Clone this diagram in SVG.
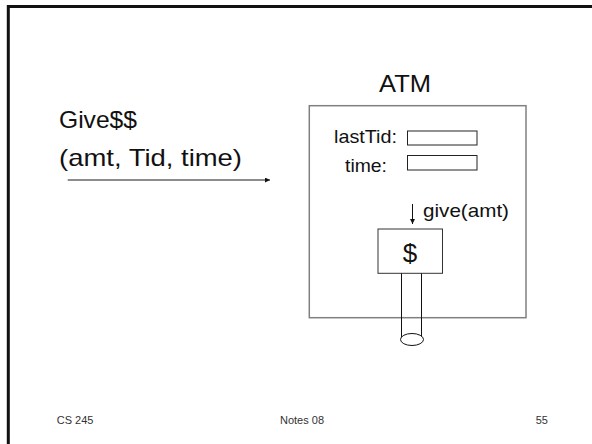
<svg xmlns="http://www.w3.org/2000/svg" width="592" height="444" viewBox="0 0 592 444">
  <style>
    .t { font-family: "Liberation Sans", Arial, sans-serif; fill: #111; }
    .big { font-size: 24px; }
    .mid { font-size: 19px; }
    .foot { font-family: "Liberation Sans", Arial, sans-serif; font-size: 11px; fill: #333; }
    .box { fill: #fff; stroke: #808080; stroke-width: 1.5; }
    .field { fill: #fff; stroke: #222; stroke-width: 1; }
    .blk { fill: none; stroke: #111; stroke-width: 1; }
  </style>
  <defs>
    <marker id="ah" viewBox="0 0 10 10" refX="10" refY="5" markerWidth="5" markerHeight="5" markerUnits="userSpaceOnUse" orient="auto">
      <path d="M0,0 L10,5 L0,10 z" fill="#111"/>
    </marker>
  </defs>
  <rect width="592" height="444" fill="#fff"/>
  <rect x="8.3" y="6.5" width="600" height="460" fill="none" stroke="#111" stroke-width="3"/>

  <g id="message">
    <text class="t big" x="59" y="127.5" textLength="78" lengthAdjust="spacingAndGlyphs">Give$$</text>
    <text class="t big" x="59" y="166" textLength="183" lengthAdjust="spacingAndGlyphs">(amt, Tid, time)</text>
  </g>

  <g id="atm">
    <text class="t big" x="405" y="92.3" text-anchor="middle" textLength="52" lengthAdjust="spacingAndGlyphs">ATM</text>
    <rect class="box" x="309.3" y="105.7" width="216.7" height="212"/>
    <text class="t mid" x="334" y="143" textLength="63" lengthAdjust="spacingAndGlyphs">lastTid:</text>
    <rect class="field" x="407.5" y="131" width="69.5" height="14"/>
    <text class="t mid" x="345" y="171.5" textLength="42" lengthAdjust="spacingAndGlyphs">time:</text>
    <rect class="field" x="407.5" y="155.5" width="69.5" height="14.5"/>
    <text class="t mid" x="423" y="217" textLength="86" lengthAdjust="spacingAndGlyphs">give(amt)</text>
  </g>

  <g id="dispenser">
    <rect x="378" y="229" width="64.5" height="44.3" fill="#fff" stroke="#333" stroke-width="1"/>
    <text class="t" x="410" y="262" text-anchor="middle" font-size="26">$</text>
    <line class="blk" x1="401.5" y1="273.3" x2="401.5" y2="338"/>
    <line class="blk" x1="421.5" y1="273.3" x2="421.5" y2="338"/>
    <ellipse cx="412" cy="339.5" rx="11.5" ry="6" fill="#fff" stroke="#111" stroke-width="1"/>
  </g>

  <g id="connectors">
    <line x1="67.7" y1="180" x2="270" y2="180" stroke="#666" stroke-width="1.3" marker-end="url(#ah)"/>
    <line x1="412.5" y1="204" x2="412.5" y2="224" stroke="#111" stroke-width="1" marker-end="url(#ah)"/>
  </g>

  <g id="footer">
    <text class="foot" x="56.7" y="424">CS 245</text>
    <text class="foot" x="280" y="424">Notes 08</text>
    <text class="foot" x="535.7" y="424">55</text>
  </g>
</svg>
